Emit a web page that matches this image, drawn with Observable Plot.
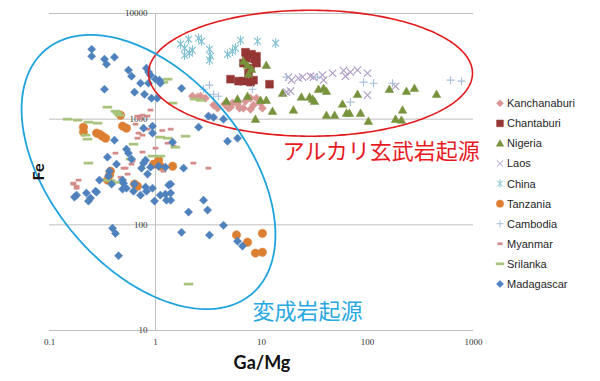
<!DOCTYPE html>
<html><head><meta charset="utf-8">
<script src="https://cdn.jsdelivr.net/npm/d3@7"></script>
<script src="https://cdn.jsdelivr.net/npm/@observablehq/plot@0.6"></script>
<style>body{margin:0;background:#fff} #chart{width:600px;height:381px}</style>
</head><body><div id="chart"></div>
<script>
// ---- data (Ga/Mg, Fe) ----
const xTicks = [0.1, 1, 10, 100, 1000];
const xTickLabels = ["0.1", "1", "10", "100", "1000"];
const yTicks = [10, 100, 1000, 10000];
const yTickLabels = ["10", "100", "1000", "10000"];
const seriesNames = ["Kanchanaburi","Chantaburi","Nigeria","Laos","China","Tanzania","Cambodia","Myanmar","Srilanka","Madagascar"];

const kanchanaburi = [[2.23,1650],[2.49,1620],[2.96,1580],[3.53,1360],[3.85,1270],[4.48,1390],[5.10,1300],[5.94,1390],[6.20,1270],[7.06,1480],[7.88,1580],[8.41,1360],[9.79,1420],[10.2,1270],[7.88,1240],[6.76,1270],[5.32,1420],[4.89,1270],[8.97,1580],[2.66,1650]];
const chantaburi = [[7.06,4300],[8.05,4120],[8.97,3940],[7.21,3780],[8.59,3700],[6.76,3390],[8.97,3390],[7.88,3040],[7.54,2720],[5.10,2390],[6.07,2290],[6.76,2290],[7.88,2240],[8.41,2340],[11.9,2140]];
const nigeria = [[6.76,3540],[7.38,3240],[8.05,2970],[7.54,2670],[11.1,3240],[4.67,1480],[5.94,1550],[7.38,1650],[9.79,1510],[11.1,1510],[12.7,1190],[8.77,1000],[15.8,1760],[20.0,1220],[23.8,1620],[28.4,1620],[30.3,1550],[31.6,1480],[34.5,1920],[38.5,1960],[41.0,1840],[58.1,1390],[41.0,1090],[48.9,1090],[63.4,1140],[67.6,1140],[86,1140],[102,957],[80.5,1720],[161,1920],[233,1840],[277,1960],[448,1720],[214,1220],[184,1000],[209,979]];
const laos = [[18.0,2500],[19.2,2340],[22.3,2440],[24.4,2500],[29,2550],[31.0,2500],[37.6,2610],[38.5,2340],[46.8,2720],[59.4,2890],[62.0,2550],[69,2790],[80.5,2910],[100,2720],[100,1690],[184,2050],[17.2,1800],[18.8,1840]];
const china = [[1.72,5130],[2.05,5710],[1.88,4700],[2.55,5840],[2.72,5470],[2.23,4500],[2.09,4220],[1.88,4030],[3.23,4590],[3.31,3940],[3.23,3620],[4.78,4120],[5.32,4400],[5.68,4700],[6.34,5590],[9.17,5470],[13.6,5240]];
const tanzania = [[0.209,840],[0.209,754],[0.278,738],[0.296,722],[0.316,690],[0.338,661],[0.468,1090],[0.489,859],[0.532,822],[1.07,409],[0.957,375],[1.11,359],[1.45,359],[0.376,322],[0.368,295],[0.352,265],[0.634,243],[0.676,232],[5.81,80],[7.38,68.5],[10.2,83],[8.77,54],[10.2,55]];
const cambodia = [[3.23,2100],[2.84,1920],[3.53,1720],[3.93,1650],[8.22,1920],[17.2,2500],[33.7,2500],[91.7,2240],[114,2190],[172,2190],[69,1450],[607,2340],[771,2290]];
const myanmar = [[0.676,1070],[0.754,1090],[0.841,1070],[0.706,1020],[0.897,1220],[0.648,897],[0.841,804],[1.16,781],[1.39,804],[0.691,738],[0.754,706],[0.676,661],[1.30,593],[1.48,556],[0.754,488],[0.419,477],[1,532],[0.607,401],[0.594,375],[0.521,344],[0.499,344],[0.545,302],[0.468,282],[2.28,384],[3.16,344],[1.19,322],[0.188,265],[0.168,248],[0.180,232],[0.180,222],[0.168,243]];
const srilanka = [[0.148,1000],[0.184,979],[0.233,937],[0.284,917],[0.352,1300],[0.419,1190],[0.438,1140],[0.457,1090],[0.219,706],[0.228,647],[0.620,580],[0.937,447],[1.11,447],[1.30,661],[1.54,543],[1.11,676],[1.92,690],[0.233,384],[0.581,419],[0.376,263],[0.438,253],[0.323,265],[1.19,2240],[1.30,2390],[1.45,1420],[2.33,1550],[2.66,1510],[2.05,27.5]];
const madagascar = [[0.25,4590],[0.25,3940],[0.33,3700],[0.345,3310],[0.41,3860],[0.556,2910],[0.594,2550],[0.33,1920],[0.722,2190],[0.634,1800],[0.787,1720],[0.822,3040],[0.859,2790],[0.897,2610],[0.917,1580],[1.04,1580],[1.0,2390],[1.09,2340],[1.11,2190],[0.859,2190],[1.76,1960],[3.16,1070],[3.53,1040],[4.38,1000],[2.55,840],[4.78,619],[5.94,661],
[0.41,632],[0.771,822],[0.937,859],[0.937,738],[0.352,437],[0.532,520],[0.556,477],[0.594,419],[0.429,375],[0.805,409],[0.771,384],[0.841,302],[0.738,344],[0.368,322],[0.36,289],[0.296,265],[0.385,243],[0.489,265],[0.499,248],[0.532,222],[0.634,243],[0.805,228],[0.937,222],[0.897,351],[1.07,359],[1.24,351],[1.39,243],[0.272,208],[1.45,606],[1.84,344],
[0.18,191],[0.172,183],[0.223,200],[0.244,179],[0.233,168],[0.278,204],[0.489,218],[0.62,208],[0.722,191],[0.822,208],[0.979,168],[1.11,191],[1.24,195],[1.39,200],[1.27,171],[1.39,171],[1.33,238],[0.393,93],[0.419,83],[0.448,51],[2.84,171],[2.05,132],[3.10,138],[4.38,99],[1.76,85],[3.23,80],[5.94,70],[6.62,63]];

const seriesData = [kanchanaburi, chantaburi, nigeria, laos, china, tanzania, cambodia, myanmar, srilanka, madagascar];

// annotation ellipses (center in data units, semi-axes in decades, rotation in degrees)
const ellipses = [
  {cx: 29, cy: 2720, rx: 1.528, ry: 0.596, angle: 0, color: "#e31a1c", width: 1.6},
  {cx: 0.859, cy: 316, rx: 1.51, ry: 0.915, angle: 50, color: "#1ea3dc", width: 1.8}
];
const annotations = [
  {text: "アルカリ玄武岩起源", x: 15.8, y: 488, color: "#e8191f"},
  {text: "変成岩起源", x: 8.22, y: 14.9, color: "#27a8e0"}
];

// ---- symbols ----
const R = s => Math.sqrt(s / Math.PI);
const sym = {
  diamond: {draw(c, s){const r=R(s); c.moveTo(0,-r); c.lineTo(r,0); c.lineTo(0,r); c.lineTo(-r,0); c.closePath();}},
  square: {draw(c, s){const r=R(s); c.moveTo(-r,-r); c.lineTo(r,-r); c.lineTo(r,r); c.lineTo(-r,r); c.closePath();}},
  triangle: {draw(c, s){const r=R(s); c.moveTo(0,-r); c.lineTo(r,r*0.75); c.lineTo(-r,r*0.75); c.closePath();}},
  circle: {draw(c, s){const r=R(s); c.moveTo(r,0); c.arc(0,0,r,0,2*Math.PI);}},
  times: {draw(c, s){const r=R(s); c.moveTo(-r,-r); c.lineTo(r,r); c.moveTo(r,-r); c.lineTo(-r,r);}},
  asterisk: {draw(c, s){const r=R(s); c.moveTo(-r*0.85,-r*0.85); c.lineTo(r*0.85,r*0.85); c.moveTo(r*0.85,-r*0.85); c.lineTo(-r*0.85,r*0.85); c.moveTo(0,-r*1.2); c.lineTo(0,r*1.2);}},
  plus: {draw(c, s){const r=R(s); c.moveTo(-r,0); c.lineTo(r,0); c.moveTo(0,-r); c.lineTo(0,r);}},
  dash: {draw(c, s){const r=R(s); c.moveTo(-r,-1.1); c.lineTo(r,-1.1); c.lineTo(r,1.1); c.lineTo(-r,1.1); c.closePath();}}
};
const styles = [
  {symbol: sym.diamond, color: "#d99694", r: 4.1, filled: true},
  {symbol: sym.square, color: "#953735", r: 3.9, filled: true},
  {symbol: sym.triangle, color: "#77933c", r: 4.3, filled: true},
  {symbol: sym.times, color: "#ad9cc6", r: 3.7, filled: false},
  {symbol: sym.asterisk, color: "#7fc0d3", r: 4.0, filled: false},
  {symbol: sym.circle, color: "#dd7f33", r: 4.2, filled: true},
  {symbol: sym.plus, color: "#a7bfdd", r: 4.0, filled: false},
  {symbol: sym.dash, color: "#d48a88", r: 2.6, filled: true},
  {symbol: sym.dash, color: "#a8c47c", r: 4.5, filled: true},
  {symbol: sym.diamond, color: "#4f81bd", r: 4.1, filled: true}
];

function ellipsePoints(e) {
  const pts = [];
  const th = e.angle * Math.PI / 180, lx0 = Math.log10(e.cx), ly0 = Math.log10(e.cy);
  for (let i = 0; i <= 240; i++) {
    const t = 2 * Math.PI * i / 240;
    const u = e.rx * Math.cos(t), v = e.ry * Math.sin(t);
    pts.push({x: 10 ** (lx0 + u * Math.cos(th) - v * Math.sin(th)), y: 10 ** (ly0 - (u * Math.sin(th) + v * Math.cos(th)))});
  }
  return pts;
}

const marks = [
  Plot.ruleY(yTicks, {stroke: "#bfbfbf", strokeWidth: 1}),
  Plot.ruleX([1], {stroke: "#bfbfbf", strokeWidth: 1}),
  Plot.text(yTicks, {x: d => 1, y: d => d, text: (d, i) => yTickLabels[i], textAnchor: "end", dx: -8, fontSize: 9, fontFamily: "Liberation Serif", fill: "#333"}),
  Plot.text(xTicks, {x: d => d, y: d => 10, text: (d, i) => xTickLabels[i], dy: 12, fontSize: 9, fontFamily: "Liberation Serif", fill: "#333"})
];
seriesData.forEach((data, i) => {
  const s = styles[i];
  marks.push(Plot.dot(data, {
    x: d => d[0], y: d => d[1], symbol: s.symbol, r: s.r,
    fill: s.filled ? s.color : "none", stroke: s.color, strokeWidth: s.filled ? 0.5 : 1.1
  }));
});
ellipses.forEach(e => marks.push(Plot.line(ellipsePoints(e), {x: "x", y: "y", stroke: e.color, strokeWidth: e.width})));
marks.push(Plot.text(annotations, {x: "x", y: "y", text: "text", fill: d => d.color, textAnchor: "start", fontSize: 22, fontFamily: "Noto Sans CJK JP"}));

const plot = Plot.plot({
  width: 600, height: 381,
  marginLeft: 49, marginRight: 127, marginTop: 13, marginBottom: 51,
  x: {type: "log", domain: [0.1, 1000], axis: null},
  y: {type: "log", domain: [10, 10000], axis: null},
  style: {background: "#fff", overflow: "visible"},
  marks
});

const svg = d3.select(plot);
svg.append("text").attr("x", 262).attr("y", 369).attr("text-anchor", "middle")
  .attr("font-family", "Lato").attr("font-weight", "bold").attr("font-size", 18).attr("fill", "#111").text("Ga/Mg");
svg.append("text").attr("transform", "translate(43.5,172) rotate(-90)").attr("text-anchor", "middle")
  .attr("font-family", "Lato").attr("font-weight", "bold").attr("font-size", 16).attr("fill", "#111").text("Fe");

const lg = svg.append("g").attr("transform", "translate(500,103.3)");
seriesNames.forEach((name, i) => {
  const s = styles[i];
  const g = lg.append("g").attr("transform", `translate(0,${i * 20.07})`);
  g.append("path").attr("d", d3.symbol(s.symbol, s.r * s.r * Math.PI * 0.75)())
    .attr("fill", s.filled ? s.color : "none").attr("stroke", s.color).attr("stroke-width", s.filled ? 0.5 : 1);
  g.append("text").attr("x", 7).attr("dy", "0.36em").attr("text-anchor", "start")
    .attr("font-family", "Liberation Sans").attr("font-size", 11)
    .attr("fill", "#262626").text(name);
});

document.getElementById("chart").appendChild(plot);
</script>
</body></html>
